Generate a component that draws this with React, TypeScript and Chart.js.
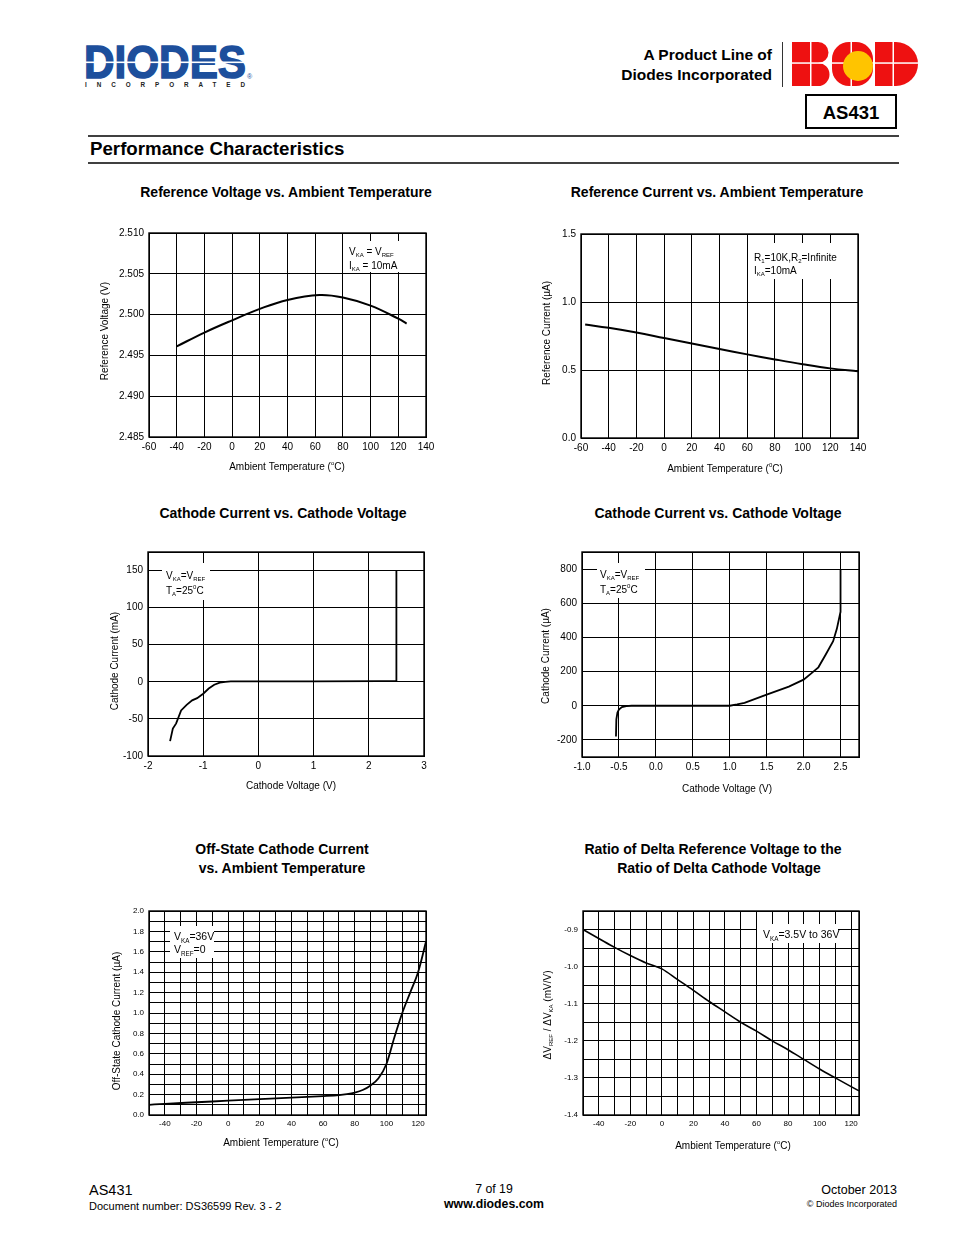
import React, { useEffect, useRef } from 'react';
import { Chart, registerables } from 'chart.js';

Chart.register(...registerables);

const FONT = "'Liberation Sans', Arial, Helvetica, sans-serif";

// ---------------- DATA ----------------
// Chart 1: Reference Voltage vs Ambient Temperature
const refVoltTemp = [-40, -20, 0, 20, 40, 63, 80, 100, 120, 126];
const refVolt = [2.4961, 2.4978, 2.4993, 2.5007, 2.5018, 2.5024, 2.5021, 2.5011, 2.4995, 2.4989];
const tempTicks140 = [-60, -40, -20, 0, 20, 40, 60, 80, 100, 120, 140];
const tempLabels140 = ['-60', '-40', '-20', '0', '20', '40', '60', '80', '100', '120', '140'];
const refVoltTicks = [2.485, 2.49, 2.495, 2.5, 2.505, 2.51];
const refVoltLabels = ['2.485', '2.490', '2.495', '2.500', '2.505', '2.510'];

// Chart 2: Reference Current vs Ambient Temperature
const refCurTemp = [-57, -40, -20, 0, 20, 40, 60, 80, 100, 120, 140];
const refCur = [0.835, 0.81, 0.775, 0.735, 0.695, 0.655, 0.615, 0.578, 0.543, 0.512, 0.49];
const refCurTicks = [0, 0.5, 1.0, 1.5];
const refCurLabels = ['0.0', '0.5', '1.0', '1.5'];

// Chart 3: Cathode Current (mA) vs Cathode Voltage
const cathVmA = [-1.6, -1.55, -1.49, -1.4, -1.3, -1.2, -1.11, -1.0, -0.9, -0.8, -0.7, -0.6, -0.5, 0, 1, 2.2, 2.5, 2.5];
const cathImA = [-80, -63, -56, -38.5, -31, -25, -22, -16, -9, -4, -1, 0, 0.5, 0.5, 0.5, 0.8, 1, 150];
const cathVTicks3 = [-2, -1, 0, 1, 2, 3];
const cathVLabels3 = ['-2', '-1', '0', '1', '2', '3'];
const cathITicks3 = [-100, -50, 0, 50, 100, 150, 175];
const cathILabels3 = ['-100', '-50', '0', '50', '100', '150', ''];

// Chart 4: Cathode Current (uA) vs Cathode Voltage
const cathVuA = [-0.54, -0.535, -0.52, -0.5, -0.46, -0.4, -0.33, 0, 0.5, 1.0, 1.1, 1.2, 1.5, 1.8, 2.0, 2.1, 2.2, 2.3, 2.4, 2.45, 2.5, 2.5];
const cathIuA = [-180, -80, -40, -22, -8, -2, 0, 0, 0, 0, 8, 17, 65, 112, 153, 188, 225, 300, 378, 450, 550, 800];
const cathVTicks4 = [-1, -0.5, 0, 0.5, 1, 1.5, 2, 2.5, 2.75];
const cathVLabels4 = ['-1.0', '-0.5', '0.0', '0.5', '1.0', '1.5', '2.0', '2.5', ''];
const cathITicks4 = [-300, -200, 0, 200, 400, 600, 800, 900];
const cathILabels4 = ['', '-200', '0', '200', '400', '600', '800', ''];

// Chart 5: Off-State Cathode Current vs Ambient Temperature
const offTemp = [-50, -40, -20, 0, 20, 40, 60, 70, 75, 80, 85, 90, 95, 100, 105, 110, 115, 120, 125];
const offCur = [0.10, 0.11, 0.125, 0.14, 0.155, 0.17, 0.185, 0.195, 0.205, 0.22, 0.245, 0.29, 0.36, 0.5, 0.76, 1.0, 1.2, 1.4, 1.7];
const tempTicks125 = [-50, -40, -30, -20, -10, 0, 10, 20, 30, 40, 50, 60, 70, 80, 90, 100, 110, 120, 125];
const tempLabels125 = ['', '-40', '', '-20', '', '0', '', '20', '', '40', '', '60', '', '80', '', '100', '', '120', ''];
const offCurTicks = [0, 0.1, 0.2, 0.3, 0.4, 0.5, 0.6, 0.7, 0.8, 0.9, 1.0, 1.1, 1.2, 1.3, 1.4, 1.5, 1.6, 1.7, 1.8, 1.9, 2.0];
const offCurLabels = ['0.0', '', '0.2', '', '0.4', '', '0.6', '', '0.8', '', '1.0', '', '1.2', '', '1.4', '', '1.6', '', '1.8', '', '2.0'];

// Chart 6: Ratio of delta reference voltage to delta cathode voltage
const ratioTemp = [-50, -40, -30, -20, -10, 0, 10, 20, 30, 40, 50, 60, 70, 80, 90, 100, 110, 125];
const ratioVal = [-0.90, -0.924, -0.948, -0.97, -0.99, -1.006, -1.035, -1.064, -1.094, -1.122, -1.15, -1.174, -1.2, -1.224, -1.25, -1.276, -1.30, -1.335];
const ratioTicks = [-1.4, -1.35, -1.3, -1.25, -1.2, -1.15, -1.1, -1.05, -1.0, -0.95, -0.9, -0.85];
const ratioLabels = ['-1.4', '', '-1.3', '', '-1.2', '', '-1.1', '', '-1.0', '', '-0.9', ''];

// ---------------- RICH TEXT ----------------
type Seg = { t: string; s?: 'sub' | 'sup' };
const S = (t: string): Seg => ({ t });
const SUB = (t: string): Seg => ({ t, s: 'sub' });
const SUP = (t: string): Seg => ({ t, s: 'sup' });

function drawRich(ctx: CanvasRenderingContext2D, segs: Seg[], x: number, y: number, size: number, align: 'left' | 'center') {
  const small = Math.max(5, size * 0.6);
  const widths = segs.map((g) => {
    ctx.font = `${g.s ? small : size}px ${FONT}`;
    return ctx.measureText(g.t).width;
  });
  const total = widths.reduce((a, b) => a + b, 0);
  let cx = align === 'center' ? x - total / 2 : x;
  const base = y + size * 0.36;
  ctx.textAlign = 'left';
  ctx.textBaseline = 'alphabetic';
  ctx.fillStyle = '#000';
  segs.forEach((g, i) => {
    ctx.font = `${g.s ? small : size}px ${FONT}`;
    const dy = g.s === 'sub' ? size * 0.28 : g.s === 'sup' ? -size * 0.42 : 0;
    ctx.fillText(g.t, cx, base + dy);
    cx += widths[i];
  });
}

type Rect = { l: number; t: number; r: number; b: number };
type Spec = {
  canvas: { x: number; y: number; w: number; h: number };
  plot: Rect;
  xs: number[];
  ys: number[];
  xMin: number; xMax: number; yMin: number; yMax: number;
  xTicks: number[]; xLabels: string[];
  yTicks: number[]; yLabels: string[];
  tickSize: number;
  lineWidth: number;
  curve: 'bezier' | 'monotone' | 'straight';
  xTitle: Seg[]; xTitlePos: [number, number];
  yTitle: Seg[]; yTitlePos: [number, number];
  titleSize: number;
  legendBox: [number, number, number, number];
  legend: { x: number; y: number; segs: Seg[] }[];
  legendSize: number;
};

const tempTitleO = [S('Ambient Temperature ('), SUP('o'), S('C)')];
const tempTitle0 = [S('Ambient Temperature ('), SUP('0'), S('C)')];

const specs: Spec[] = [
  {
    canvas: { x: 90, y: 222, w: 360, h: 258 },
    plot: { l: 149, t: 233, r: 426, b: 437 },
    xs: refVoltTemp, ys: refVolt,
    xMin: -60, xMax: 140, yMin: 2.485, yMax: 2.51,
    xTicks: tempTicks140, xLabels: tempLabels140,
    yTicks: refVoltTicks, yLabels: refVoltLabels,
    tickSize: 10, lineWidth: 2, curve: 'bezier',
    xTitle: tempTitleO, xTitlePos: [287, 466],
    yTitle: [S('Reference Voltage (V)')], yTitlePos: [104, 331],
    titleSize: 10,
    legendBox: [344, 241, 401, 272],
    legend: [
      { x: 349, y: 251, segs: [S('V'), SUB('KA'), S(' = V'), SUB('REF')] },
      { x: 349, y: 265, segs: [S('I'), SUB('KA'), S(' = 10mA')] },
    ],
    legendSize: 10,
  },
  {
    canvas: { x: 530, y: 222, w: 350, h: 258 },
    plot: { l: 581, t: 234, r: 858, b: 438 },
    xs: refCurTemp, ys: refCur,
    xMin: -60, xMax: 140, yMin: 0, yMax: 1.5,
    xTicks: tempTicks140, xLabels: tempLabels140,
    yTicks: refCurTicks, yLabels: refCurLabels,
    tickSize: 10, lineWidth: 2, curve: 'bezier',
    xTitle: tempTitle0, xTitlePos: [725, 468],
    yTitle: [S('Reference Current (µA)')], yTitlePos: [546, 333],
    titleSize: 10,
    legendBox: [749, 243, 841, 279],
    legend: [
      { x: 754, y: 257, segs: [S('R'), SUB('1'), S('=10K,R'), SUB('2'), S('=Infinite')] },
      { x: 754, y: 270, segs: [S('I'), SUB('KA'), S('=10mA')] },
    ],
    legendSize: 10,
  },
  {
    canvas: { x: 95, y: 540, w: 350, h: 260 },
    plot: { l: 148, t: 552, r: 424, b: 756 },
    xs: cathVmA, ys: cathImA,
    xMin: -2, xMax: 3, yMin: -100, yMax: 175,
    xTicks: cathVTicks3, xLabels: cathVLabels3,
    yTicks: cathITicks3, yLabels: cathILabels3,
    tickSize: 10, lineWidth: 1.8, curve: 'straight',
    xTitle: [S('Cathode Voltage (V)')], xTitlePos: [291, 785],
    yTitle: [S('Cathode Current (mA)')], yTitlePos: [114, 661],
    titleSize: 10,
    legendBox: [162, 563, 210, 600],
    legend: [
      { x: 166, y: 575, segs: [S('V'), SUB('KA'), S('=V'), SUB('REF')] },
      { x: 166, y: 590, segs: [S('T'), SUB('A'), S('=25'), SUP('0'), S('C')] },
    ],
    legendSize: 10,
  },
  {
    canvas: { x: 530, y: 540, w: 350, h: 265 },
    plot: { l: 582, t: 552, r: 859, b: 757 },
    xs: cathVuA, ys: cathIuA,
    xMin: -1, xMax: 2.75, yMin: -300, yMax: 900,
    xTicks: cathVTicks4, xLabels: cathVLabels4,
    yTicks: cathITicks4, yLabels: cathILabels4,
    tickSize: 10, lineWidth: 1.8, curve: 'straight',
    xTitle: [S('Cathode Voltage (V)')], xTitlePos: [727, 788],
    yTitle: [S('Cathode Current (µA)')], yTitlePos: [545, 656],
    titleSize: 10,
    legendBox: [597, 563, 645, 598],
    legend: [
      { x: 600, y: 574, segs: [S('V'), SUB('KA'), S('=V'), SUB('REF')] },
      { x: 600, y: 589, segs: [S('T'), SUB('A'), S('=25'), SUP('0'), S('C')] },
    ],
    legendSize: 10,
  },
  {
    canvas: { x: 100, y: 900, w: 345, h: 255 },
    plot: { l: 149, t: 911, r: 426, b: 1115 },
    xs: offTemp, ys: offCur,
    xMin: -50, xMax: 125, yMin: 0, yMax: 2.0,
    xTicks: tempTicks125, xLabels: tempLabels125,
    yTicks: offCurTicks, yLabels: offCurLabels,
    tickSize: 8, lineWidth: 1.8, curve: 'monotone',
    xTitle: tempTitleO, xTitlePos: [281, 1142],
    yTitle: [S('Off-State Cathode Current (µA)')], yTitlePos: [116, 1021],
    titleSize: 10,
    legendBox: [170, 926, 214, 958],
    legend: [
      { x: 174, y: 936, segs: [S('V'), SUB('KA'), S('=36V')] },
      { x: 174, y: 949, segs: [S('V'), SUB('REF'), S('=0')] },
    ],
    legendSize: 10.5,
  },
  {
    canvas: { x: 530, y: 900, w: 350, h: 255 },
    plot: { l: 583, t: 911, r: 859, b: 1115 },
    xs: ratioTemp, ys: ratioVal,
    xMin: -50, xMax: 125, yMin: -1.4, yMax: -0.85,
    xTicks: tempTicks125, xLabels: tempLabels125,
    yTicks: ratioTicks, yLabels: ratioLabels,
    tickSize: 8, lineWidth: 1.6, curve: 'monotone',
    xTitle: tempTitleO, xTitlePos: [733, 1145],
    yTitle: [S('ΔV'), SUB('REF'), S(' / ΔV'), SUB('KA'), S(' (mV/V)')], yTitlePos: [547, 1015],
    titleSize: 10,
    legendBox: [757, 924, 838, 943],
    legend: [{ x: 763, y: 934, segs: [S('V'), SUB('KA'), S('=3.5V to 36V')] }],
    legendSize: 10.5,
  },
];

function makeDecor(spec: Spec) {
  return {
    id: 'decor',
    beforeDatasetsDraw(chart: any) {
      const { ctx, chartArea } = chart;
      const ox = chartArea.left - spec.plot.l;
      const oy = chartArea.top - spec.plot.t;
      const [x1, y1, x2, y2] = spec.legendBox;
      ctx.save();
      ctx.fillStyle = '#fff';
      ctx.fillRect(x1 + ox, y1 + oy, x2 - x1, y2 - y1);
      ctx.restore();
    },
    afterDraw(chart: any) {
      const { ctx, chartArea } = chart;
      const ox = chartArea.left - spec.plot.l;
      const oy = chartArea.top - spec.plot.t;
      ctx.save();
      ctx.strokeStyle = '#000';
      ctx.lineWidth = 1.4;
      ctx.strokeRect(chartArea.left, chartArea.top, chartArea.right - chartArea.left, chartArea.bottom - chartArea.top);
      spec.legend.forEach((ln) => drawRich(ctx, ln.segs, ln.x + ox, ln.y + oy, spec.legendSize, 'left'));
      drawRich(ctx, spec.xTitle, spec.xTitlePos[0] + ox, spec.xTitlePos[1] + oy, spec.titleSize, 'center');
      ctx.translate(spec.yTitlePos[0] + ox, spec.yTitlePos[1] + oy);
      ctx.rotate(-Math.PI / 2);
      drawRich(ctx, spec.yTitle, 0, 0, spec.titleSize, 'center');
      ctx.restore();
    },
  };
}

function PlotCanvas({ spec }: { spec: Spec }) {
  const ref = useRef<HTMLCanvasElement>(null);
  useEffect(() => {
    const c = ref.current;
    if (!c) return;
    const { plot, canvas } = spec;
    const tickFont = { family: FONT, size: spec.tickSize };
    const chart = new Chart(c, {
      type: 'line',
      data: {
        datasets: [
          {
            data: spec.xs.map((x, i) => ({ x, y: spec.ys[i] })),
            borderColor: '#000',
            borderWidth: spec.lineWidth,
            pointRadius: 0,
            fill: false,
            tension: spec.curve === 'straight' ? 0 : 0.4,
            cubicInterpolationMode: spec.curve === 'monotone' ? 'monotone' : 'default',
          } as any,
        ],
      },
      options: {
        animation: false,
        responsive: false,
        events: [],
        layout: {
          padding: {
            left: 0,
            top: plot.t - canvas.y,
            right: canvas.x + canvas.w - plot.r,
            bottom: 0,
          },
        },
        plugins: {
          legend: { display: false },
          tooltip: { enabled: false },
          title: { display: false },
        },
        scales: {
          x: {
            type: 'linear',
            min: spec.xMin,
            max: spec.xMax,
            afterBuildTicks: (axis: any) => {
              axis.ticks = spec.xTicks.map((v) => ({ value: v }));
            },
            afterFit: (s: any) => {
              s.height = canvas.y + canvas.h - plot.b;
            },
            ticks: {
              autoSkip: false,
              maxRotation: 0,
              minRotation: 0,
              padding: 4,
              color: '#000',
              font: tickFont,
              callback: (_v: any, i: number) => spec.xLabels[i],
            },
            grid: { color: '#000', lineWidth: 1, drawTicks: false },
            border: { display: true, color: '#000', width: 1 },
          },
          y: {
            type: 'linear',
            min: spec.yMin,
            max: spec.yMax,
            afterBuildTicks: (axis: any) => {
              axis.ticks = spec.yTicks.map((v) => ({ value: v }));
            },
            afterFit: (s: any) => {
              s.width = plot.l - canvas.x;
            },
            ticks: {
              autoSkip: false,
              padding: 5,
              color: '#000',
              font: tickFont,
              callback: (_v: any, i: number) => spec.yLabels[i],
            },
            grid: { color: '#000', lineWidth: 1, drawTicks: false },
            border: { display: true, color: '#000', width: 1 },
          },
        },
      } as any,
      plugins: [makeDecor(spec)],
    });
    return () => chart.destroy();
  }, [spec]);
  return (
    <canvas
      ref={ref}
      width={spec.canvas.w}
      height={spec.canvas.h}
      style={{ position: 'absolute', left: spec.canvas.x, top: spec.canvas.y, width: spec.canvas.w, height: spec.canvas.h }}
    />
  );
}

function Txt({ x, y, size, bold, align = 'left', children }: { x: number; y: number; size: number; bold?: boolean; align?: 'left' | 'center' | 'right'; children: React.ReactNode }) {
  const tx = align === 'center' ? '-50%' : align === 'right' ? '-100%' : '0';
  return (
    <div
      style={{
        position: 'absolute',
        left: x,
        top: y,
        transform: `translate(${tx}, -50%)`,
        fontSize: size,
        fontWeight: bold ? 'bold' : 'normal',
        fontFamily: FONT,
        whiteSpace: 'nowrap',
        lineHeight: 1,
        color: '#000',
      }}
    >
      {children}
    </div>
  );
}

const RED = '#ee1111';
const YELLOW = '#ffc400';
const BLUE = '#1d4f9c';

function Header() {
  return (
    <svg width={954} height={170} style={{ position: 'absolute', left: 0, top: 0 }}>
      {/* DIODES logo */}
      <text x={84} y={78} fontFamily={FONT} fontWeight={900} fontSize={46} fill={BLUE} stroke={BLUE} strokeWidth={1.5} textLength={162} lengthAdjust="spacingAndGlyphs">
        DIODES
      </text>
      <rect x={84} y={61.5} width={163} height={1.6} fill="#fff" />
      <text x={247} y={79} fontFamily={FONT} fontSize={7} fill={BLUE}>®</text>
      <text x={85} y={86.5} fontFamily={FONT} fontWeight="bold" fontSize={6.3} fill="#222" textLength={160} lengthAdjust="spacing">
        INCORPORATED
      </text>
      {/* separator */}
      <line x1={782.5} y1={42} x2={782.5} y2={87} stroke="#333" strokeWidth={1} />
      {/* BCD logo */}
      <path d="M792 42 H818 A10.5 10.5 0 0 1 818 63 A11.5 11.5 0 0 1 818 86 H792 Z" fill={RED} />
      <rect x={832} y={42} width={41} height={44} rx={17} fill={RED} />
      <path d="M875 42 H896 A22 22 0 0 1 896 86 H875 Z" fill={RED} />
      <rect x={790} y={62.3} width={130} height={1.5} fill="#fff" />
      <rect x={810} y={41} width={1.5} height={46} fill="#fff" />
      <rect x={850.5} y={41} width={1.5} height={46} fill="#fff" />
      <rect x={892.5} y={41} width={1.5} height={46} fill="#fff" />
      <circle cx={858} cy={66} r={15} fill={YELLOW} />
      {/* AS431 box */}
      <rect x={806} y={95} width={90} height={33} fill="none" stroke="#000" strokeWidth={2} />
      <text x={851} y={118.5} fontFamily={FONT} fontWeight="bold" fontSize={18.5} textAnchor="middle" fill="#000">
        AS431
      </text>
      {/* rules */}
      <line x1={88} y1={136} x2={899} y2={136} stroke="#000" strokeWidth={1.5} />
      <line x1={88} y1={163} x2={899} y2={163} stroke="#000" strokeWidth={1.5} />
    </svg>
  );
}

export default function App() {
  return (
    <div style={{ position: 'absolute', left: 0, top: 0, width: 954, height: 1235, background: '#fff', overflow: 'hidden' }}>
      <Header />
      <Txt x={772} y={55} size={15.5} bold align="right">A Product Line of</Txt>
      <Txt x={772} y={75} size={15.5} bold align="right">Diodes Incorporated</Txt>
      <Txt x={90} y={149} size={18.7} bold>Performance Characteristics</Txt>

      <Txt x={286} y={192} size={14} bold align="center">Reference Voltage vs. Ambient Temperature</Txt>
      <Txt x={717} y={192} size={14} bold align="center">Reference Current vs. Ambient Temperature</Txt>
      <Txt x={283} y={513} size={14} bold align="center">Cathode Current vs. Cathode Voltage</Txt>
      <Txt x={718} y={513} size={14} bold align="center">Cathode Current vs. Cathode Voltage</Txt>
      <Txt x={282} y={849} size={14} bold align="center">Off-State Cathode Current</Txt>
      <Txt x={282} y={868} size={14} bold align="center">vs. Ambient Temperature</Txt>
      <Txt x={713} y={849} size={14} bold align="center">Ratio of Delta Reference Voltage to the</Txt>
      <Txt x={719} y={868} size={14} bold align="center">Ratio of Delta Cathode Voltage</Txt>

      {specs.map((s, i) => (
        <PlotCanvas key={i} spec={s} />
      ))}

      <Txt x={89} y={1190} size={14.5}>AS431</Txt>
      <Txt x={89} y={1206} size={11}>Document number: DS36599 Rev. 3 - 2</Txt>
      <Txt x={494} y={1189} size={12.3} align="center">7 of 19</Txt>
      <Txt x={494} y={1204} size={12.3} bold align="center">www.diodes.com</Txt>
      <Txt x={897} y={1190} size={12.5} align="right">October 2013</Txt>
      <Txt x={897} y={1204} size={9} align="right">© Diodes Incorporated</Txt>
    </div>
  );
}
